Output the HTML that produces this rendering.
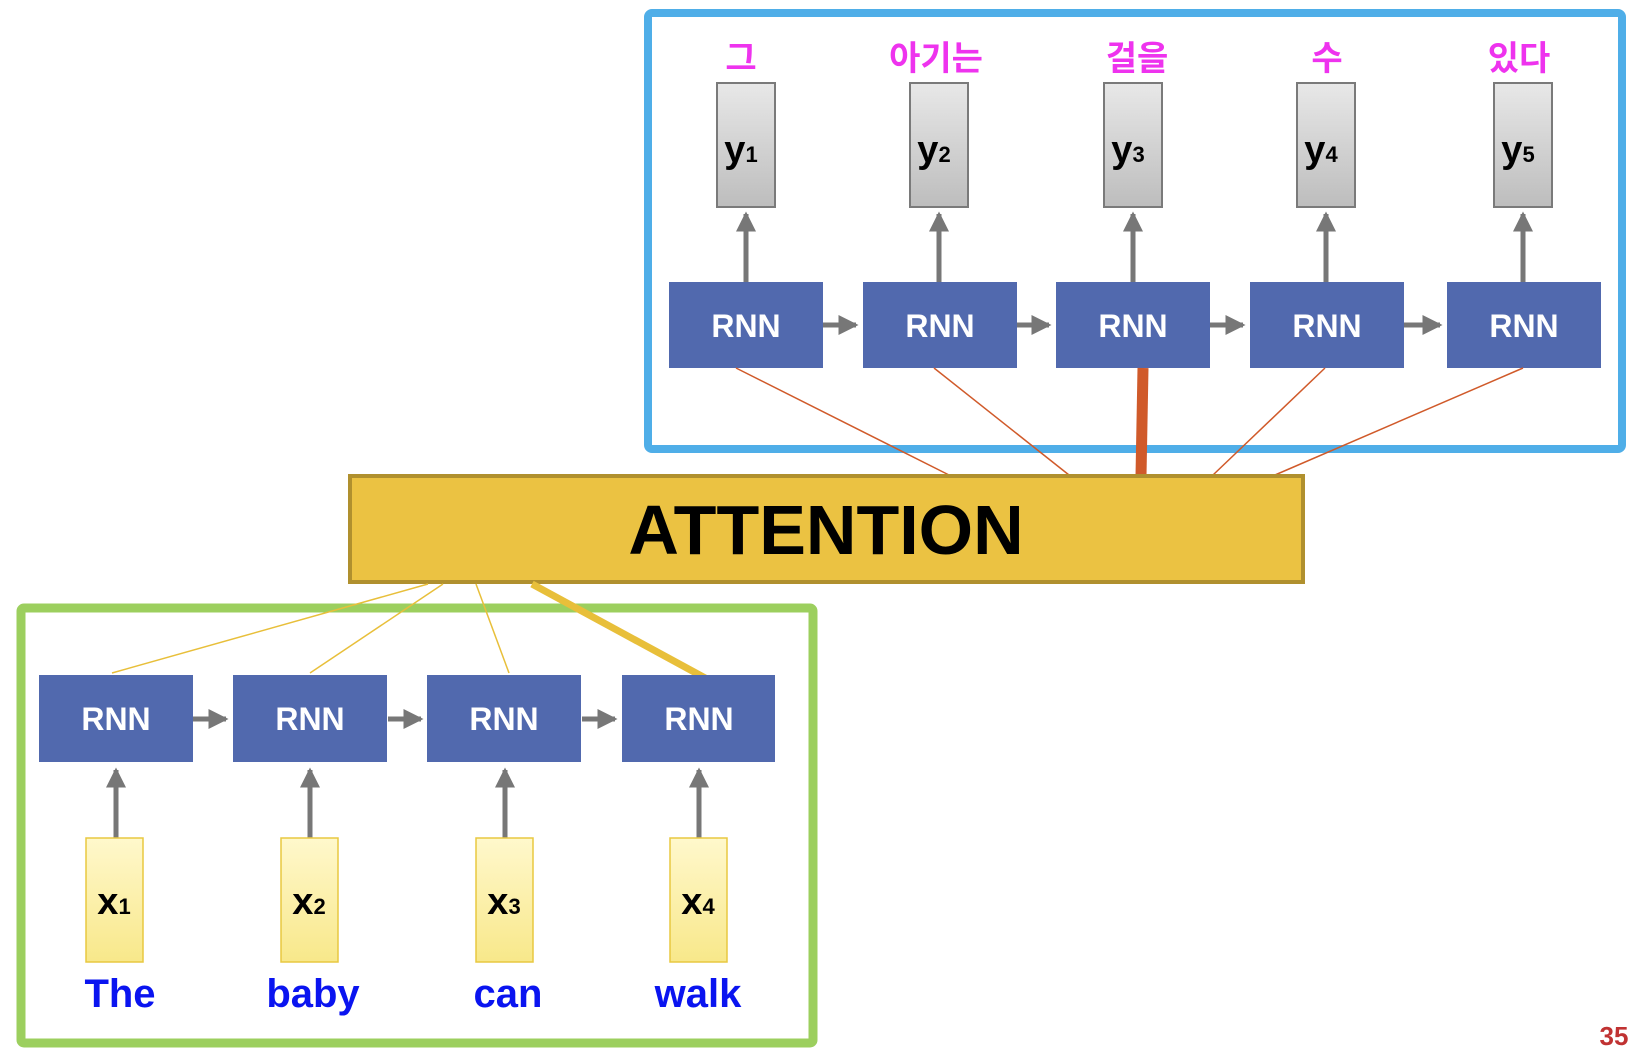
<!DOCTYPE html>
<html><head><meta charset="utf-8"><style>
html,body{margin:0;padding:0;background:#fff;}
svg{display:block;}
text{font-family:"Liberation Sans","Noto Sans CJK KR",sans-serif;font-weight:bold;}
</style></head><body>
<svg width="1636" height="1060" viewBox="0 0 1636 1060" xmlns="http://www.w3.org/2000/svg">
<defs>
<linearGradient id="gy" x1="0" y1="0" x2="0" y2="1"><stop offset="0" stop-color="#e8e8e8"/><stop offset="1" stop-color="#bdbdbd"/></linearGradient>
<linearGradient id="yl" x1="0" y1="0" x2="0" y2="1"><stop offset="0" stop-color="#fff8cc"/><stop offset="1" stop-color="#f8e88a"/></linearGradient>
<marker id="ah" markerWidth="4" markerHeight="4" refX="3.5" refY="2" orient="auto" markerUnits="strokeWidth"><path d="M0,0 L4,2 L0,4 z" fill="#777"/></marker>
</defs>

<!-- blue box -->
<rect x="648" y="13" width="974" height="436" rx="4" fill="none" stroke="#4faee8" stroke-width="8"/>
<!-- green box -->
<rect x="21" y="608" width="792" height="435" rx="3" fill="none" stroke="#9ccf5e" stroke-width="9"/>

<!-- top y boxes and labels -->
<g fill="#ee33ee" font-size="34" text-anchor="middle">
<text x="741" y="70">그</text><text x="936" y="70">아기는</text><text x="1137" y="70">걸을</text><text x="1327" y="70">수</text><text x="1519" y="70">있다</text>
</g>
<g stroke="#7a7a7a" stroke-width="2" fill="url(#gy)">
<rect x="717" y="83" width="58" height="124"/><rect x="910" y="83" width="58" height="124"/><rect x="1104" y="83" width="58" height="124"/><rect x="1297" y="83" width="58" height="124"/><rect x="1494" y="83" width="58" height="124"/>
</g>
<g font-size="38" fill="#000" text-anchor="middle">
<text x="741" y="162">y<tspan font-size="22">1</tspan></text>
<text x="934" y="162">y<tspan font-size="22">2</tspan></text>
<text x="1128" y="162">y<tspan font-size="22">3</tspan></text>
<text x="1321" y="162">y<tspan font-size="22">4</tspan></text>
<text x="1518" y="162">y<tspan font-size="22">5</tspan></text>
</g>
<!-- top arrows -->
<g stroke="#777" stroke-width="5" marker-end="url(#ah)">
<line x1="746" y1="282" x2="746" y2="214"/><line x1="939" y1="282" x2="939" y2="214"/><line x1="1133" y1="282" x2="1133" y2="214"/><line x1="1326" y1="282" x2="1326" y2="214"/><line x1="1523" y1="282" x2="1523" y2="214"/>
<line x1="823" y1="325" x2="856" y2="325"/><line x1="1016" y1="325" x2="1049" y2="325"/><line x1="1209" y1="325" x2="1243" y2="325"/><line x1="1403" y1="325" x2="1440" y2="325"/>
</g>
<!-- top RNNs -->
<g fill="#5169ae">
<rect x="669" y="282" width="154" height="86"/><rect x="863" y="282" width="154" height="86"/><rect x="1056" y="282" width="154" height="86"/><rect x="1250" y="282" width="154" height="86"/><rect x="1447" y="282" width="154" height="86"/>
</g>
<g fill="#fff" font-size="32" text-anchor="middle">
<text x="746" y="337">RNN</text><text x="940" y="337">RNN</text><text x="1133" y="337">RNN</text><text x="1327" y="337">RNN</text><text x="1524" y="337">RNN</text>
</g>
<!-- orange lines -->
<g stroke="#d05a2a" stroke-width="1.5">
<line x1="736" y1="368" x2="949" y2="475"/><line x1="934" y1="368" x2="1069" y2="475"/><line x1="1325" y1="368" x2="1213" y2="475"/><line x1="1523" y1="368" x2="1275" y2="475"/>
</g>
<line x1="1143" y1="368" x2="1141" y2="476" stroke="#d05a2a" stroke-width="11"/>

<!-- attention -->
<rect x="350" y="476" width="953" height="106" fill="#ebc242" stroke="#b0902e" stroke-width="4"/>
<text x="826" y="554" font-size="70" fill="#000" text-anchor="middle">ATTENTION</text>

<!-- yellow lines -->
<g stroke="#e8bf3a" stroke-width="1.5">
<line x1="428" y1="584" x2="112" y2="673"/><line x1="443" y1="584" x2="310" y2="673"/><line x1="476" y1="584" x2="509" y2="673"/>
</g>
<line x1="532" y1="584" x2="707" y2="679" stroke="#e8bf3a" stroke-width="7"/>

<!-- bottom arrows -->
<g stroke="#777" stroke-width="5" marker-end="url(#ah)">
<line x1="116" y1="838" x2="116" y2="770"/><line x1="310" y1="838" x2="310" y2="770"/><line x1="505" y1="838" x2="505" y2="770"/><line x1="699" y1="838" x2="699" y2="770"/>
<line x1="193" y1="719" x2="226" y2="719"/><line x1="388" y1="719" x2="421" y2="719"/><line x1="582" y1="719" x2="615" y2="719"/>
</g>
<!-- bottom RNNs -->
<g fill="#5169ae">
<rect x="39" y="675" width="154" height="87"/><rect x="233" y="675" width="154" height="87"/><rect x="427" y="675" width="154" height="87"/><rect x="622" y="675" width="153" height="87"/>
</g>
<g fill="#fff" font-size="32" text-anchor="middle">
<text x="116" y="730">RNN</text><text x="310" y="730">RNN</text><text x="504" y="730">RNN</text><text x="699" y="730">RNN</text>
</g>
<!-- x boxes -->
<g stroke="#e8c840" stroke-width="1.5" fill="url(#yl)">
<rect x="86" y="838" width="57" height="124"/><rect x="281" y="838" width="57" height="124"/><rect x="476" y="838" width="57" height="124"/><rect x="670" y="838" width="57" height="124"/>
</g>
<g font-size="38" fill="#000" text-anchor="middle">
<text x="114" y="914">x<tspan font-size="22">1</tspan></text>
<text x="309" y="914">x<tspan font-size="22">2</tspan></text>
<text x="504" y="914">x<tspan font-size="22">3</tspan></text>
<text x="698" y="914">x<tspan font-size="22">4</tspan></text>
</g>
<g font-size="40" fill="#0a14f0" text-anchor="middle">
<text x="120" y="1007">The</text><text x="313" y="1007">baby</text><text x="508" y="1007">can</text><text x="698" y="1007">walk</text>
</g>
<text x="1614" y="1045" font-size="26" fill="#c03232" text-anchor="middle">35</text>
</svg>
</body></html>
